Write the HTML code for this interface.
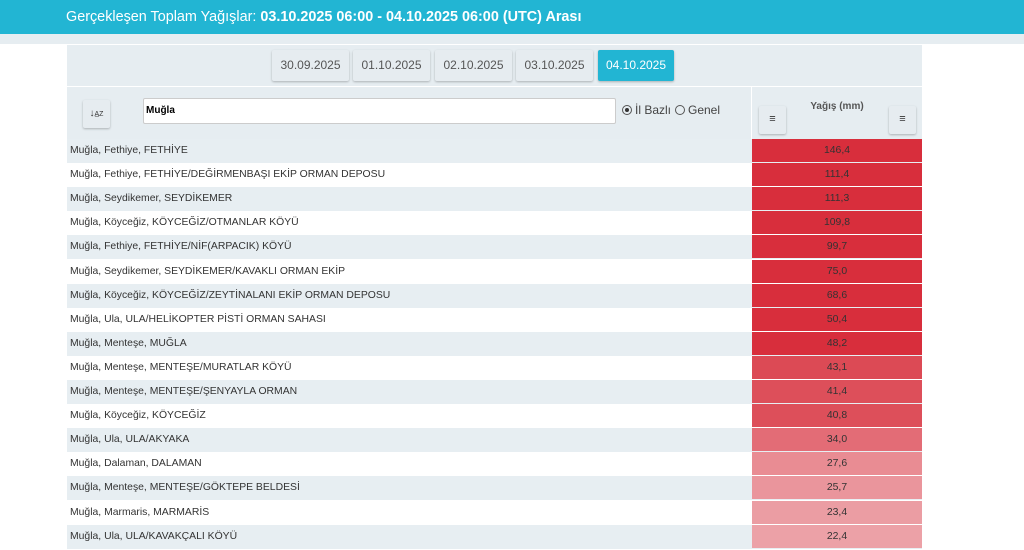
<!DOCTYPE html>
<html><head><meta charset="utf-8"><style>
*{box-sizing:border-box;margin:0;padding:0}
html,body{width:1024px;height:550px;overflow:hidden}
body{background:#fff;font-family:"Liberation Sans","DejaVu Sans",sans-serif;color:#333;position:relative}
.hdr{position:absolute;left:0;top:0;width:1024px;height:34px;background:#22b5d3;color:#fff;font-size:14.4px;line-height:34px;padding-left:66px}
.hdr b{font-weight:bold}
.strip{position:absolute;left:0;top:34px;width:1024px;height:10px;background:#e6edf1}
.wrap{position:absolute;left:67px;top:45px;width:855px;height:505px;overflow:hidden}
.dates{position:absolute;left:0;top:0;width:855px;height:41px;background:#e6edf1}
.btn{position:absolute;top:5px;height:31px;background:#e6ecf0;border-radius:2px;box-shadow:0 1px 2px rgba(0,0,0,.25);font-size:12px;color:#555;text-align:center;line-height:31px}
.btn.on{background:#22b5d3;color:#fff}
.ctrl{position:absolute;left:0;top:42px;width:855px;height:52px;background:#e6edf1}
.ico{position:absolute;width:27px;height:28px;background:#e6ecf0;border-radius:2px;box-shadow:0 1px 2px rgba(0,0,0,.25)}
.inp{position:absolute;left:76px;top:11px;width:473px;height:26px;background:#fff;border:1px solid #ccc;border-radius:2px;font-size:10px;font-weight:bold;color:#000;line-height:24px;padding-left:2px}
.radio{position:absolute;top:16px;font-size:12px;color:#444}
.radio i{display:inline-block;width:10px;height:10px;border:1px solid #555;border-radius:50%;vertical-align:-1px;margin-right:3px;position:relative}
.radio i.on:after{content:"";position:absolute;left:2px;top:2px;width:4px;height:4px;border-radius:50%;background:#333}
.sep{position:absolute;left:684px;top:42px;width:1px;height:52px;background:#fff}
.row{position:absolute;left:0;width:855px;height:24px;font-size:10.4px;line-height:24px}
.row .n{position:absolute;left:3px}
.row .v{position:absolute;left:685px;width:170px;height:23px;text-align:center;color:#333}
</style></head><body>
<div class="hdr">Gerçekleşen Toplam Yağışlar: <b>03.10.2025 06:00 - 04.10.2025 06:00 (UTC) Arası</b></div>
<div class="strip"></div>
<div class="wrap">
<div class="dates">
<div class="btn" style="left:205px;width:77px">30.09.2025</div>
<div class="btn" style="left:286px;width:77px">01.10.2025</div>
<div class="btn" style="left:368px;width:77px">02.10.2025</div>
<div class="btn" style="left:449px;width:77px">03.10.2025</div>
<div class="btn on" style="left:531px;width:76px">04.10.2025</div>
</div>
<div class="ctrl">
<div class="ico" style="left:16px;top:13px;font-size:10px;text-align:center;line-height:28px;color:#333">↓<span style="font-size:7px">A̲Z</span></div>
<div class="inp">Muğla</div>
<div class="radio" style="left:555px"><i class="on"></i>İl Bazlı</div>
<div class="radio" style="left:608px"><i></i>Genel</div>
<div style="position:absolute;left:685px;top:14px;width:170px;text-align:center;font-size:10px;font-weight:bold;color:#555">Yağış (mm)</div>
<div class="ico" style="left:692px;top:19px;text-align:center;line-height:26px;font-size:11px;color:#333">≡</div>
<div class="ico" style="left:822px;top:19px;text-align:center;line-height:26px;font-size:11px;color:#333">≡</div>
</div>
<div class="sep"></div>
<div id="rows"></div>
</div>
<script>
var d=[["Muğla, Fethiye, FETHİYE","146,4","#d82e3c"],["Muğla, Fethiye, FETHİYE/DEĞİRMENBAŞI EKİP ORMAN DEPOSU","111,4","#d82e3c"],["Muğla, Seydikemer, SEYDİKEMER","111,3","#d82e3c"],["Muğla, Köyceğiz, KÖYCEĞİZ/OTMANLAR KÖYÜ","109,8","#d82e3c"],["Muğla, Fethiye, FETHİYE/NİF(ARPACIK) KÖYÜ","99,7","#d82e3c"],["Muğla, Seydikemer, SEYDİKEMER/KAVAKLI ORMAN EKİP","75,0","#d82e3c"],["Muğla, Köyceğiz, KÖYCEĞİZ/ZEYTİNALANI EKİP ORMAN DEPOSU","68,6","#d82e3c"],["Muğla, Ula, ULA/HELİKOPTER PİSTİ ORMAN SAHASI","50,4","#d82e3c"],["Muğla, Menteşe, MUĞLA","48,2","#d82e3c"],["Muğla, Menteşe, MENTEŞE/MURATLAR KÖYÜ","43,1","#dc4a55"],["Muğla, Menteşe, MENTEŞE/ŞENYAYLA ORMAN","41,4","#dd4f5a"],["Muğla, Köyceğiz, KÖYCEĞİZ","40,8","#dd4f5a"],["Muğla, Ula, ULA/AKYAKA","34,0","#e36c76"],["Muğla, Dalaman, DALAMAN","27,6","#e98c93"],["Muğla, Menteşe, MENTEŞE/GÖKTEPE BELDESİ","25,7","#ea959c"],["Muğla, Marmaris, MARMARİS","23,4","#eb9da3"],["Muğla, Ula, ULA/KAVAKÇALI KÖYÜ","22,4","#eca1a7"]];
var h="";for(var i=0;i<d.length;i++){var t=94+i*24.1;h+='<div class="row" style="top:'+t+'px;background:'+(i%2?'#fff':'#e7eef2')+'"><span class="n">'+d[i][0]+'</span><div class="v" style="background:'+d[i][2]+'">'+d[i][1]+'</div></div>';}
document.getElementById("rows").innerHTML=h;
</script>
</body></html>
